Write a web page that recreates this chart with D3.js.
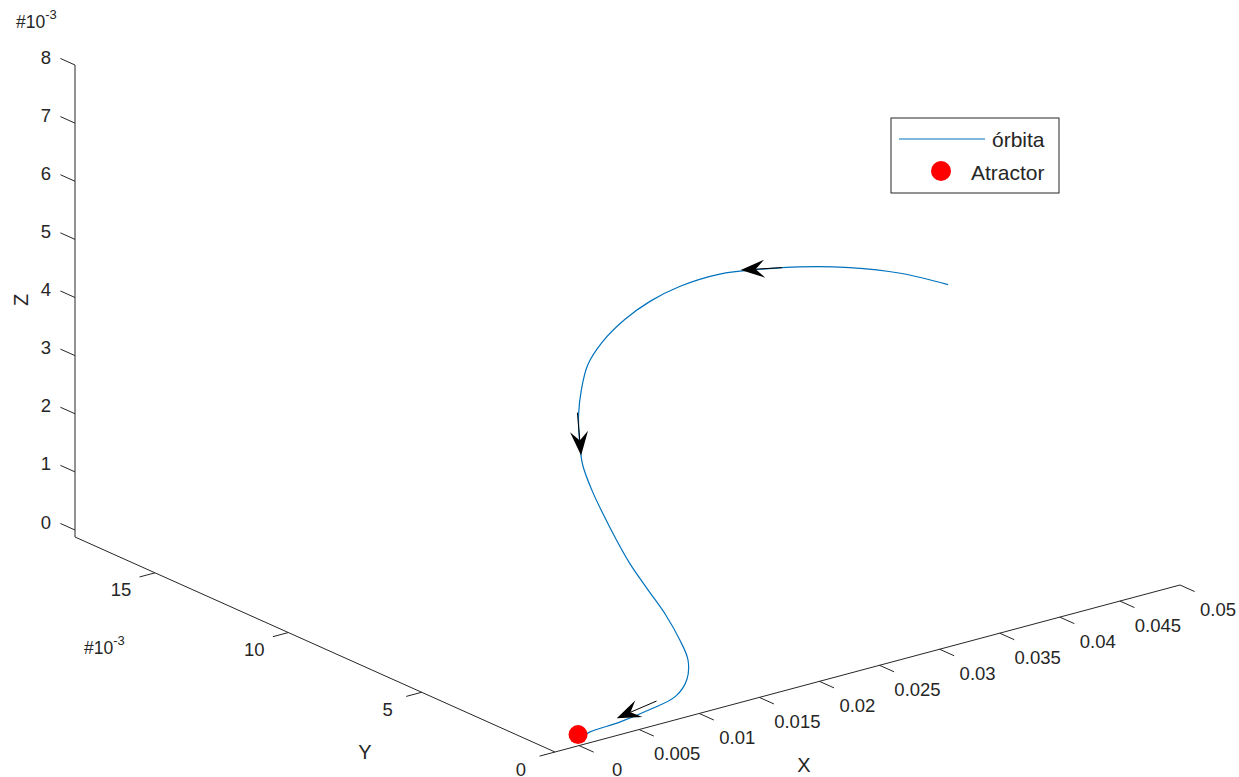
<!DOCTYPE html>
<html lang="es">
<head>
<meta charset="UTF-8">
<script src="https://cdn.jsdelivr.net/npm/d3@7"></script>
<title>órbita</title>
<style>
  body { margin: 0; background: #fff; }
  text { font-family: "Liberation Sans", Arial, sans-serif; fill: #262626; }
</style>
</head>
<body>
<script>
    // trayectoria
    var orbitX = [0.0500, 0.0456, 0.0407, 0.0359, 0.0319, 0.0279, 0.0239, 0.0208, 0.0180, 0.0155,
        0.0136, 0.0124, 0.0115, 0.0109, 0.0105, 0.0106, 0.0109, 0.0113, 0.0118, 0.0126,
        0.0134, 0.0137, 0.0135, 0.0123, 0.0098, 0.0070, 0.0041, 0.0011, 0];
    var orbitY = [0.0087, 0.0085, 0.0082, 0.0079, 0.0076, 0.0073, 0.0070, 0.0067, 0.0064, 0.0061,
        0.0058, 0.0055, 0.0052, 0.0049, 0.0046, 0.0043, 0.0040, 0.0037, 0.0034, 0.0031,
        0.0028, 0.0024, 0.0020, 0.0015, 0.0008, 0.0005, 0.0003, 0.0001, 0];
    var orbitZ = [0.00326, 0.00374, 0.00417, 0.00451, 0.00475, 0.00495, 0.00502, 0.00500, 0.00490, 0.00472,
        0.00449, 0.00419, 0.00387, 0.00354, 0.00319, 0.00281, 0.00243, 0.00204, 0.00165, 0.00123,
        0.00082, 0.00045, 0.00020, 0.00003, 0.00002, 0.00001, 0.00000, 0.00003, 0];
    // flechas: [cola, punta]
    var arrowTail = [[0.0342, 0.0078, 0.00461], [0.0114, 0.0052, 0.00391], [0.0080, 0.0007, 0.00006]];
    var arrowTip = [[0.0300, 0.00746, 0.00487], [0.0106, 0.0047, 0.00332], [0.0038, 0.0003, 0.00008]];
    var attractor = [0, 0, 0];

    var xTicks = [0, 0.005, 0.01, 0.015, 0.02, 0.025, 0.03, 0.035, 0.04, 0.045, 0.05];
    var xTickLabels = ["0", "0.005", "0.01", "0.015", "0.02", "0.025", "0.03", "0.035", "0.04", "0.045", "0.05"];
    var yTicks = [0, 0.005, 0.01, 0.015];
    var yTickLabels = ["0", "5", "10", "15"];
    var zTicks = [0, 0.001, 0.002, 0.003, 0.004, 0.005, 0.006, 0.007, 0.008];
    var zTickLabels = ["0", "1", "2", "3", "4", "5", "6", "7", "8"];

    var width = 1239, height = 777;
    var svg = d3.select("body").append("svg").attr("width", width).attr("height", height);

    // proyección 3D (vista fija)
    var origin = [555, 752];
    var ex = [625, -167], ey = [-480, -215], ez = [0, -472];
    var sx = d3.scaleLinear().domain([-0.002, 0.05]).range([0, 1]);
    var sy = d3.scaleLinear().domain([0, 0.018]).range([0, 1]);
    var sz = d3.scaleLinear().domain([-0.00012, 0.008]).range([0, 1]);
    var project = function(x, y, z) {
        var a = sx(x), b = sy(y), c = sz(z);
        return [origin[0] + a * ex[0] + b * ey[0] + c * ez[0],
                origin[1] + a * ex[1] + b * ey[1] + c * ez[1]];
    };
    var unit = function(v) {
        var l = Math.hypot(v[0], v[1]);
        return [v[0] / l, v[1] / l];
    };

    var axisColor = "#262626";
    var drawLine = function(p, q, color) {
        svg.append("line").attr("x1", p[0]).attr("y1", p[1]).attr("x2", q[0]).attr("y2", q[1])
            .attr("stroke", color || axisColor).attr("stroke-width", 1);
    };

    // ejes
    var xd = sx.domain(), yd = sy.domain(), zd = sz.domain();
    drawLine(project(xd[0], yd[0], zd[0]), project(xd[1], yd[0], zd[0]));
    drawLine(project(xd[0], yd[0], zd[0]), project(xd[0], yd[1], zd[0]));
    drawLine(project(xd[0], yd[1], zd[0]), project(xd[0], yd[1], zd[1]));

    var tickLen = 16;
    var ux = unit(ex), uy = unit(ey);

    // ticks X (hacia -Y)
    xTicks.forEach(function(v, i) {
        var p = project(v, yd[0], zd[0]);
        drawLine(p, [p[0] - uy[0] * tickLen, p[1] - uy[1] * tickLen]);
        svg.append("text").attr("x", p[0] + 38).attr("y", p[1] + 24)
            .attr("text-anchor", "middle").attr("dominant-baseline", "central")
            .attr("font-size", "18.5px").text(xTickLabels[i]);
    });
    // ticks Y (hacia -X)
    yTicks.forEach(function(v, i) {
        var p = project(xd[0], v, zd[0]);
        drawLine(p, [p[0] - ux[0] * tickLen, p[1] - ux[1] * tickLen]);
        svg.append("text").attr("x", p[0] - 34).attr("y", p[1] + 17)
            .attr("text-anchor", "middle").attr("dominant-baseline", "central")
            .attr("font-size", "18.5px").text(yTickLabels[i]);
    });
    // ticks Z (hacia +Y)
    zTicks.forEach(function(v, i) {
        var p = project(xd[0], yd[1], v);
        drawLine(p, [p[0] + uy[0] * tickLen, p[1] + uy[1] * tickLen]);
        svg.append("text").attr("x", p[0] - 24).attr("y", p[1] - 8)
            .attr("text-anchor", "end").attr("dominant-baseline", "central")
            .attr("font-size", "18.5px").text(zTickLabels[i]);
    });

    // multiplicadores
    var mult = function(x, y) {
        var t = svg.append("text").attr("x", x).attr("y", y).attr("font-size", "17.5px");
        t.append("tspan").text("#10");
        t.append("tspan").attr("dy", -9).attr("font-size", "13px").text("-3");
    };
    mult(16, 28);
    mult(84, 654);

    // etiquetas de ejes
    svg.append("text").attr("x", 804).attr("y", 765).attr("text-anchor", "middle")
        .attr("dominant-baseline", "central").attr("font-size", "20px").text("X");
    svg.append("text").attr("x", 365).attr("y", 752).attr("text-anchor", "middle")
        .attr("dominant-baseline", "central").attr("font-size", "20px").text("Y");
    svg.append("text").attr("transform", "translate(21,300) rotate(-90)").attr("text-anchor", "middle")
        .attr("dominant-baseline", "central").attr("font-size", "20px").text("Z");

    // órbita
    var pts = orbitX.map(function(x, i) { return project(x, orbitY[i], orbitZ[i]); });
    var line = d3.line().curve(d3.curveCatmullRom.alpha(0.5));
    svg.append("path").attr("d", line(pts)).attr("fill", "none")
        .attr("stroke", "#0072BD").attr("stroke-width", 1.2);

    // flechas
    arrowTip.forEach(function(tp, i) {
        var tl = arrowTail[i];
        var a = project(tl[0], tl[1], tl[2]);
        var b = project(tp[0], tp[1], tp[2]);
        var u = unit([b[0] - a[0], b[1] - a[1]]);
        var n = [-u[1], u[0]];
        var notch = [b[0] - u[0] * 15, b[1] - u[1] * 15];
        drawLine(a, notch, "#000");
        var w1 = [b[0] - u[0] * 24 + n[0] * 9, b[1] - u[1] * 24 + n[1] * 9];
        var w2 = [b[0] - u[0] * 24 - n[0] * 9, b[1] - u[1] * 24 - n[1] * 9];
        svg.append("path").attr("d", "M" + [b, w1, notch, w2].map(function(p) { return p.join(","); }).join("L") + "Z")
            .attr("fill", "#000");
    });

    // atractor
    var ap = project(attractor[0], attractor[1], attractor[2]);
    svg.append("circle").attr("cx", ap[0] - 1).attr("cy", ap[1] - 4).attr("r", 9.5).attr("fill", "#ff0000");

    // leyenda
    var lg = svg.append("g").attr("transform", "translate(891,118)");
    lg.append("rect").attr("width", 168).attr("height", 75).attr("fill", "#fff")
        .attr("stroke", axisColor).attr("stroke-width", 1);
    lg.append("line").attr("x1", 8).attr("x2", 94).attr("y1", 21).attr("y2", 21)
        .attr("stroke", "#0072BD").attr("stroke-width", 1.2);
    lg.append("text").attr("x", 101).attr("y", 21).attr("dominant-baseline", "central")
        .attr("font-size", "21px").attr("fill", "#000").text("órbita");
    lg.append("circle").attr("cx", 50).attr("cy", 53).attr("r", 10).attr("fill", "#ff0000");
    lg.append("text").attr("x", 80).attr("y", 54).attr("dominant-baseline", "central")
        .attr("font-size", "21px").attr("fill", "#000").text("Atractor");
</script>
</body>
</html>
